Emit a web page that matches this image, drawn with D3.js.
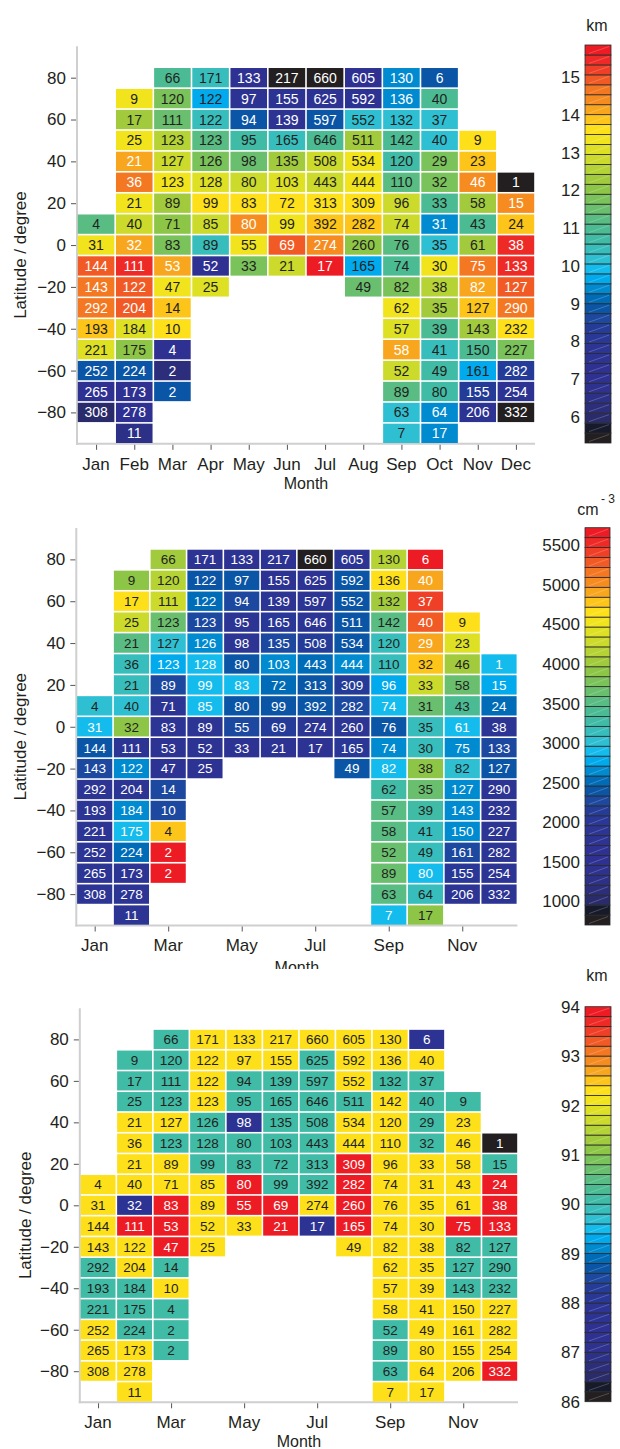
<!DOCTYPE html>
<html><head><meta charset="utf-8">
<script src="https://cdn.jsdelivr.net/npm/d3@7"></script>
<style>
body{margin:0;background:#fff}
svg{display:block}
text{font-family:"Liberation Sans",Arial,Helvetica,sans-serif}
</style>
</head><body>
<svg id="chart" width="620" height="1449"></svg>
<script>
const _ = null;
const months = ["Jan","Feb","Mar","Apr","May","Jun","Jul","Aug","Sep","Oct","Nov","Dec"];
const latitudes = [80,70,60,50,40,30,20,10,0,-10,-20,-30,-40,-50,-60,-70,-80,-90];
const yTicks = [80,60,40,20,0,-20,-40,-60,-80];

const counts = [
[_,_,66,171,133,217,660,605,130,6,_,_],
[_,9,120,122,97,155,625,592,136,40,_,_],
[_,17,111,122,94,139,597,552,132,37,_,_],
[_,25,123,123,95,165,646,511,142,40,9,_],
[_,21,127,126,98,135,508,534,120,29,23,_],
[_,36,123,128,80,103,443,444,110,32,46,1],
[_,21,89,99,83,72,313,309,96,33,58,15],
[4,40,71,85,80,99,392,282,74,31,43,24],
[31,32,83,89,55,69,274,260,76,35,61,38],
[144,111,53,52,33,21,17,165,74,30,75,133],
[143,122,47,25,_,_,_,49,82,38,82,127],
[292,204,14,_,_,_,_,_,62,35,127,290],
[193,184,10,_,_,_,_,_,57,39,143,232],
[221,175,4,_,_,_,_,_,58,41,150,227],
[252,224,2,_,_,_,_,_,52,49,161,282],
[265,173,2,_,_,_,_,_,89,80,155,254],
[308,278,_,_,_,_,_,_,63,64,206,332],
[_,11,_,_,_,_,_,_,7,17,_,_]
];

// panel 1: km
const heightKm = [
[_,_,11.0,10.4,7.3,5.4,5.4,7.3,9.4,8.9,_,_],
[_,13.3,11.8,9.7,7.5,7.5,7.5,7.5,9.4,11.0,_,_],
[_,12.3,11.5,10.4,8.9,7.5,8.9,10.2,10.2,10.2,_,_],
[_,13.3,12.6,11.2,10.7,10.4,11.0,12.3,11.0,10.2,13.6,_],
[_,14.1,12.8,11.8,11.5,12.3,12.8,13.3,10.7,11.8,13.9,_],
[_,14.7,13.3,13.1,12.8,13.1,12.8,13.3,11.2,11.8,14.4,5.4],
[_,13.3,12.3,13.6,13.6,13.6,13.6,13.6,12.8,11.0,12.3,14.4],
[11.2,12.8,12.0,12.8,14.4,13.3,13.9,13.9,12.8,9.4,11.0,13.9],
[13.3,14.1,11.8,10.4,13.3,14.9,14.4,12.0,11.2,10.2,12.3,15.4],
[14.9,15.4,14.1,7.3,11.8,12.8,15.7,9.7,11.0,13.3,14.7,15.4],
[14.7,14.9,13.3,13.1,_,_,_,11.5,11.8,12.6,14.1,14.9],
[14.7,14.9,13.9,_,_,_,_,_,13.3,12.3,13.9,14.7],
[13.9,13.1,13.6,_,_,_,_,_,13.1,11.0,12.3,13.6],
[13.1,12.0,7.3,_,_,_,_,_,14.1,10.4,11.0,11.8],
[8.9,8.9,6.2,_,_,_,_,_,12.8,10.7,9.7,8.3],
[7.3,7.3,8.9,_,_,_,_,_,11.2,10.7,8.3,7.5],
[6.0,7.0,_,_,_,_,_,_,10.2,9.4,7.5,5.4],
[_,6.5,_,_,_,_,_,_,10.2,9.4,_,_]
];

// panel 2: cm^-3
const densityCm3 = [
[_,_,4030,1770,1770,1770,760,1890,4150,5660,_,_],
[_,3900,4150,2390,2390,1770,1770,2390,4650,4900,_,_],
[_,4650,4280,2520,2270,1890,1890,2390,4030,5410,_,_],
[_,4280,3650,2270,1890,2020,1890,2390,3520,5280,4650,_],
[_,3520,3020,2650,1890,2270,2140,2390,3150,4900,4400,_],
[_,3150,2770,2900,2390,2650,2520,2650,3150,4780,4030,2900],
[_,3150,2270,2900,2900,2520,2390,2140,2770,4280,3650,2770],
[3020,3020,1890,2900,2390,2390,2390,2270,2900,3650,3400,2520],
[2900,3900,1890,1890,2270,2140,1890,1890,2390,3150,2900,1890],
[2390,1890,1770,1770,1770,1770,1770,2020,2650,3150,2650,2270],
[2270,2650,1770,1770,_,_,_,2390,2900,3900,3020,2390],
[1890,1890,2270,_,_,_,_,_,3270,3650,2650,1890],
[1890,2650,2270,_,_,_,_,_,3520,3270,2650,1890],
[1890,2900,4780,_,_,_,_,_,3520,3150,2650,1890],
[1890,2520,5660,_,_,_,_,_,3650,3150,2270,1890],
[1890,1890,5660,_,_,_,_,_,3650,2900,2020,1890],
[1890,1890,_,_,_,_,_,_,3520,3150,1890,1890],
[_,1890,_,_,_,_,_,_,2900,3900,_,_]
];

// panel 3: km
const altitudeKm = [
[_,_,90.1,92.3,92.3,92.3,92.3,92.3,92.3,87.7,_,_],
[_,90.1,90.1,92.3,92.3,92.3,90.1,92.3,92.3,92.3,_,_],
[_,90.1,90.1,92.3,90.1,90.1,90.1,92.3,90.1,90.1,_,_],
[_,90.1,90.1,92.3,90.1,90.1,90.1,90.1,92.3,90.1,90.1,_],
[_,92.3,92.3,90.1,87.7,90.1,90.1,92.3,92.3,90.1,92.3,_],
[_,92.3,90.1,90.1,90.1,90.1,90.1,92.3,92.3,90.1,92.3,86.1],
[_,92.3,92.3,90.1,90.1,90.1,90.1,93.9,92.3,92.3,92.3,90.1],
[92.3,92.3,92.3,92.3,93.9,90.1,90.1,93.9,92.3,92.3,92.3,93.9],
[92.3,87.7,93.9,92.3,93.9,93.9,92.3,93.9,92.3,92.3,92.3,93.9],
[92.3,93.9,93.9,92.3,92.3,93.9,87.7,93.9,92.3,92.3,93.9,93.9],
[92.3,92.3,93.9,92.3,_,_,_,92.3,92.3,92.3,90.1,90.1],
[90.1,92.3,90.1,_,_,_,_,_,92.3,92.3,90.1,90.1],
[90.1,90.1,92.3,_,_,_,_,_,92.3,92.3,90.1,90.1],
[90.1,90.1,90.1,_,_,_,_,_,92.3,92.3,92.3,92.3],
[92.3,90.1,90.1,_,_,_,_,_,90.1,92.3,92.3,92.3],
[92.3,92.3,90.1,_,_,_,_,_,90.1,92.3,92.3,92.3],
[92.3,92.3,_,_,_,_,_,_,90.1,92.3,92.3,93.9],
[_,92.3,_,_,_,_,_,_,92.3,92.3,_,_]
];

const cbTicks1 = [6,7,8,9,10,11,12,13,14,15];
const cbTicks2 = [1000,1500,2000,2500,3000,3500,4000,4500,5000,5500];
const cbTicks3 = [86,87,88,89,90,91,92,93,94];

// 40 discrete colour levels, bottom to top
const bandColors = ["#231f20","#171a2b","#2a2b6b","#2c2e7b","#2d3087","#2e318e","#2e3192","#2e3192","#2d3393","#2c3494",
"#293796","#243c98","#1c489f","#0a55a5","#006cb8","#008bd1","#00aaed","#13bced","#2ec0d2","#37bdbb",
"#40bba6","#4bbb93","#58bc83","#6abf6f","#7ac25a","#8dc647","#a1cb3c","#b5d334","#cbda2b","#dee024",
"#f1e41d","#fde01a","#fdc41a","#f9a61f","#f68c20","#f47722","#f15a24","#ef3f26","#ee2a27","#ed1c24"];

const panels = [
  {values: heightKm, lo:5.3, hi:15.85, ticks:cbTicks1, unit:"km",
   left:77, right:535, top:46.3, bottom:443.8, monthTicks:[1,2,3,4,5,6,7,8,9,10,11,12],
   monthLabelY:470, monthTitleY:489, yTitleX:20, cellFont:14, whiteMax:15,
   cb:{x0:585, x1:611, y0:45, y1:443}, unitX:597, unitY:31},
  {values: densityCm3, lo:700, hi:5720, ticks:cbTicks2, unit:"cm",
   left:76.3, right:517.4, top:528, bottom:925.5, monthTicks:[1,3,5,7,9,11],
   monthLabelY:951, monthTitleY:973, yTitleX:20, cellFont:13.5, whiteMax:17,
   cb:{x0:585, x1:610, y0:527.7, y1:925}, unitX:588, unitY:515, sup:"- 3"},
  {values: altitudeKm, lo:86, hi:94, ticks:cbTicks3, unit:"km",
   left:79.8, right:518, top:1008.3, bottom:1402.3, monthTicks:[1,3,5,7,9,11],
   monthLabelY:1428, monthTitleY:1447, yTitleX:25, cellFont:13.5, whiteMax:17,
   cb:{x0:585, x1:611, y0:1006.7, y1:1401.7}, unitX:597, unitY:981}
];

const svg = d3.select("#chart");
const axisGray = "#cfcfcf";
const textDark = "#231f20";

panels.forEach((p, pi) => {
  const g = svg.append("g");
  const x = d3.scaleLinear().domain([0.5, 12.5]).range([p.left, p.right]);
  const y = d3.scaleLinear().domain([-95, 95]).range([p.bottom, p.top]);
  const color = d3.scaleQuantize().domain([p.lo, p.hi]).range(bandColors);
  const bandIndex = v => Math.max(0, Math.min(39, Math.floor((v - p.lo) / (p.hi - p.lo) * 40)));

  const cells = [];
  latitudes.forEach((lat, r) => {
    months.forEach((m, c) => {
      const v = p.values[r][c];
      if (v !== null) cells.push({lat, month: c + 1, v, n: counts[r][c]});
    });
  });

  g.append("line").attr("x1", p.left).attr("x2", p.left).attr("y1", p.top).attr("y2", p.bottom + 1)
    .attr("stroke", axisGray).attr("stroke-width", 2);
  g.append("line").attr("x1", p.left - 1).attr("x2", p.right).attr("y1", p.bottom).attr("y2", p.bottom)
    .attr("stroke", axisGray).attr("stroke-width", 2);

  const cg = g.append("g");
  const gap = 0.8;
  cg.selectAll("rect").data(cells).join("rect")
    .attr("x", d => x(d.month - 0.5) + gap)
    .attr("width", d => x(d.month + 0.5) - x(d.month - 0.5) - 2 * gap)
    .attr("y", d => y(d.lat + 5) + gap)
    .attr("height", d => y(d.lat - 5) - y(d.lat + 5) - 2 * gap)
    .attr("fill", d => color(d.v));
  cg.selectAll("text").data(cells).join("text")
    .attr("x", d => x(d.month))
    .attr("y", d => y(d.lat))
    .attr("dy", "0.36em")
    .attr("text-anchor", "middle")
    .attr("font-size", p.cellFont)
    .attr("fill", d => { const i = bandIndex(d.v); return (i <= p.whiteMax || i >= 33) ? "#ffffff" : textDark; })
    .text(d => d.n);

  const ya = d3.axisLeft(y).tickValues(yTicks).tickSize(5).tickPadding(5).tickFormat(d3.format("d"));
  const yg = g.append("g").attr("transform", `translate(${p.left - 1},0)`).call(ya);
  yg.select(".domain").remove();
  yg.selectAll(".tick line").attr("stroke", "#555");
  yg.selectAll(".tick text").attr("font-size", 17).attr("fill", textDark)
    .attr("font-family", '"Liberation Sans",Arial,sans-serif');

  const xa = d3.axisBottom(x).tickValues(p.monthTicks).tickSize(5).tickFormat(d => months[d - 1]);
  const xg = g.append("g").attr("transform", `translate(0,${p.bottom + 1})`).call(xa);
  xg.select(".domain").remove();
  xg.selectAll(".tick line").attr("stroke", "#555");
  xg.selectAll(".tick text").remove();
  g.selectAll(".mlab").data(p.monthTicks).join("text")
    .attr("x", d => x(d)).attr("y", p.monthLabelY)
    .attr("text-anchor", "middle").attr("font-size", 17).attr("fill", textDark)
    .text(d => months[d - 1]);

  g.append("text").attr("x", (p.left + p.right) / 2).attr("y", p.monthTitleY)
    .attr("text-anchor", "middle").attr("font-size", 16).attr("fill", textDark).text("Month");

  g.append("text")
    .attr("transform", `translate(${p.yTitleX},${(p.top + p.bottom) / 2 + 10}) rotate(-90)`)
    .attr("text-anchor", "middle").attr("dy", "0.35em").attr("font-size", 17).attr("fill", textDark)
    .text("Latitude / degree");

  const cby = d3.scaleLinear().domain([p.lo, p.hi]).range([p.cb.y1, p.cb.y0]);
  const bands = d3.range(40).map(i => ({i, a: p.lo + (p.hi - p.lo) * i / 40, b: p.lo + (p.hi - p.lo) * (i + 1) / 40}));
  const cbg = g.append("g");
  cbg.selectAll("rect").data(bands).join("rect")
    .attr("x", p.cb.x0).attr("width", p.cb.x1 - p.cb.x0)
    .attr("y", d => cby(d.b)).attr("height", d => cby(d.a) - cby(d.b))
    .attr("fill", d => bandColors[d.i]).attr("stroke", "#2a2a2a").attr("stroke-width", 0.8);
  cbg.selectAll("line").data(bands).join("line")
    .attr("x1", p.cb.x0 + 4).attr("x2", p.cb.x1 - 2)
    .attr("y1", d => cby(d.a) - 1.5).attr("y2", d => cby(d.b) + 1.5)
    .attr("stroke", "#ffffff").attr("stroke-opacity", 0.35).attr("stroke-width", 0.6);
  cbg.selectAll("text").data(p.ticks).join("text")
    .attr("x", p.cb.x0 - 5).attr("y", d => cby(d)).attr("dy", "0.36em")
    .attr("text-anchor", "end").attr("font-size", 17).attr("fill", textDark)
    .text(d => d);
  g.append("text").attr("x", p.unitX).attr("y", p.unitY)
    .attr("text-anchor", "middle").attr("font-size", 16).attr("fill", textDark).text(p.unit);
  if (p.sup) {
    g.append("text").attr("x", p.unitX + 13).attr("y", p.unitY - 12)
      .attr("font-size", 12).attr("fill", textDark).text(p.sup);
  }

  if (pi === 1) {
    svg.append("rect").attr("x", 0).attr("y", 969).attr("width", 620).attr("height", 30).attr("fill", "#fff");
  }
});
</script>
</body></html>
